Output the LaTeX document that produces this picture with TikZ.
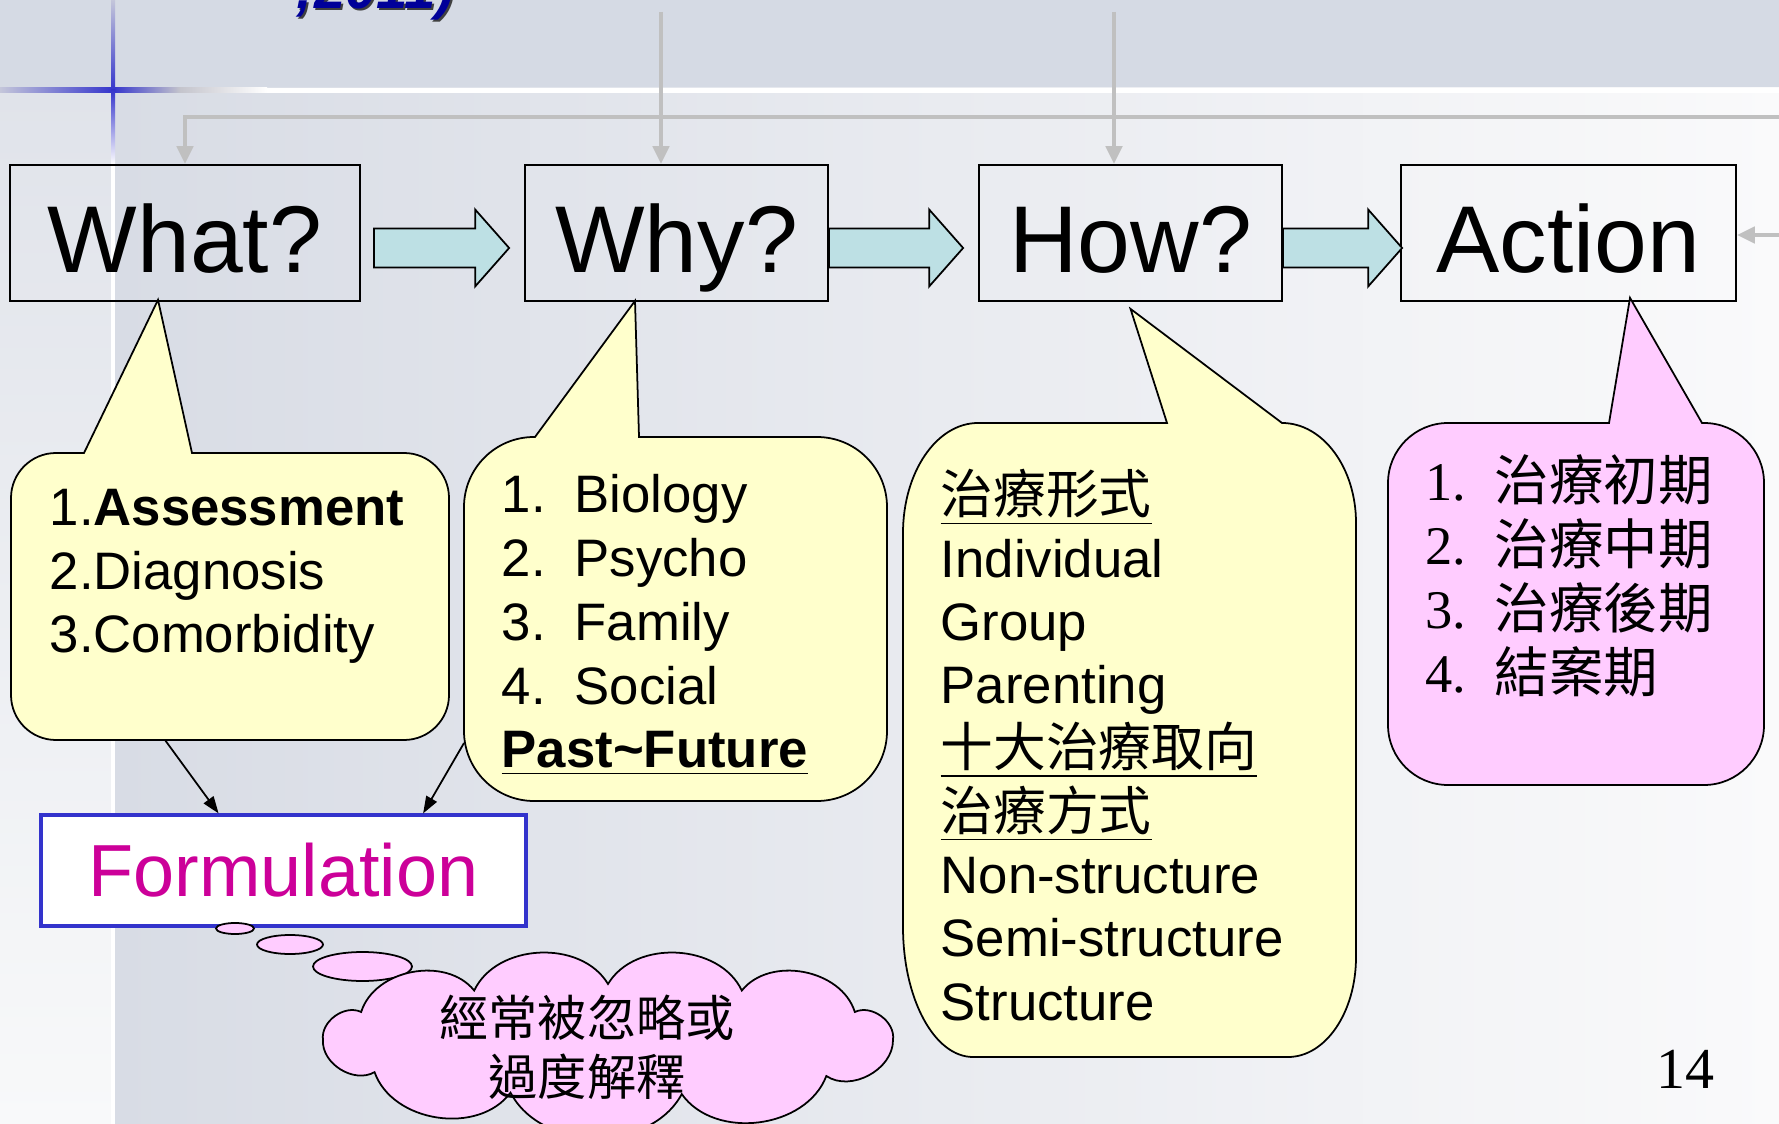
\documentclass[tikz,border=0pt]{standalone}
\usepackage{fontspec}
\setmainfont{Liberation Sans}
\newfontfamily\cjk{Noto Sans CJK TC}
\newfontfamily\numfont{Liberation Serif}
\usepackage{xcolor}
\usetikzlibrary{arrows.meta,positioning,calc,shapes.geometric}
\definecolor{bandgray}{RGB}{213,218,228}
\definecolor{bgleft}{RGB}{216,220,229}
\definecolor{bgright}{RGB}{250,250,251}
\definecolor{striptop}{RGB}{224,227,234}
\definecolor{stripbot}{RGB}{248,249,250}
\definecolor{crossblue}{RGB}{53,53,204}
\definecolor{crossfade}{RGB}{196,198,218}
\definecolor{crossgray}{RGB}{196,196,204}
\definecolor{feedgray}{RGB}{192,192,192}
\definecolor{callyellow}{RGB}{255,255,204}
\definecolor{callpink}{RGB}{255,204,255}
\definecolor{fatcyan}{RGB}{189,224,228}
\definecolor{formblue}{RGB}{51,51,204}
\definecolor{formmag}{RGB}{204,0,153}
\definecolor{titleblue}{RGB}{0,0,153}
\newcommand{\itm}[2]{\makebox[7.3mm][l]{#1}#2}
\newcommand{\stage}[2]{\makebox[6.9mm][l]{\numfont #1}{\cjk #2}}
\newcommand{\fatarrow}[2]{%
  \draw[fat] let \p1=(#1), \p2=(#2) in
    (\x1,{\y1+0.195cm}) -- ({\x2-0.34cm},{\y1+0.195cm}) -- ({\x2-0.34cm},{\y1+0.385cm})
    -- (\x2,\y1) -- ({\x2-0.34cm},{\y1-0.385cm}) -- ({\x2-0.34cm},{\y1-0.195cm})
    -- (\x1,{\y1-0.195cm}) -- cycle;}
\tikzset{
  qbox/.style={draw, line width=0.5pt, minimum height=1.36cm, inner sep=0pt,
               font=\fontsize{27}{32}\selectfont, text height=22.2pt, text depth=0pt},
  fat/.style={draw, fill=fatcyan, line width=0.5pt},
  feed/.style={draw=feedgray, line width=1.3pt, -{Triangle[length=1.8mm,width=1.6mm]}},
  ycall/.style={draw, fill=callyellow, line width=0.5pt},
  pcall/.style={draw, fill=callpink, line width=0.5pt},
  listtxt/.style={anchor=base west, align=left, inner sep=0pt,
                  font=\fontsize{15}{18.2}\selectfont},
  formbox/.style={draw=formblue, line width=0.9pt, fill=white, text=formmag,
                  minimum width=4.85cm, minimum height=1.11cm,
                  font=\fontsize{21}{25}\selectfont, text height=15pt, text depth=0pt},
  link/.style={-{Triangle[length=1.7mm,width=1.2mm]}, line width=0.5pt},
  bubble/.style={draw, fill=callpink, ellipse, inner sep=0pt, line width=0.5pt},
  thought/.style={draw, fill=callpink, line width=0.5pt},
  thoughttxt/.style={align=center, inner sep=0pt, font=\cjk\fontsize{14}{16.8}\selectfont}
}
\begin{document}
\begin{tikzpicture}[x=1cm,y=1cm]
  \useasboundingbox (0,0) rectangle (17.79,-11.24);
  \fill[bandgray] (0,0) rectangle (17.79,-0.88);
  \shade[left color=bgleft, right color=bgright] (1.13,-0.88) rectangle (17.79,-11.24);
  \shade[top color=striptop, bottom color=stripbot] (0,-0.88) rectangle (1.13,-11.24);
  \shade[left color=crossfade, right color=crossblue] (0,-0.88) rectangle (1.13,-0.93);
  \shade[left color=crossblue, right color=crossgray] (1.13,-0.88) rectangle (1.80,-0.93);
  \shade[left color=crossgray, right color=white] (1.80,-0.88) rectangle (2.67,-0.93);
  \fill[white] (2.67,-0.88) rectangle (17.79,-0.93);
  \shade[top color=crossfade, bottom color=crossblue] (1.11,0) rectangle (1.15,-0.90);
  \shade[top color=crossblue, bottom color=white] (1.11,-0.90) rectangle (1.15,-1.65);
  \fill[white] (1.11,-1.65) rectangle (1.15,-11.24);

  \node[anchor=base west, inner sep=0pt, text=black!75,
        font=\fontsize{16}{19}\selectfont\bfseries\itshape] (ttlshade) at (2.97,-0.11) {;2011)};
  \node[anchor=base west, inner sep=0pt, text=titleblue,
        font=\fontsize{16}{19}\selectfont\bfseries\itshape] (ttl) at (2.95,-0.09) {;2011)};

  \node[qbox, minimum width=3.50cm] (what) at (1.85,-2.33) {What?};
  \node[qbox, minimum width=3.03cm] (why) at (6.765,-2.33) {Why?};
  \node[qbox, minimum width=3.03cm] (how) at (11.305,-2.33) {How?};
  \node[qbox, minimum width=3.35cm] (action) at (15.685,-2.33) {Action};

  \coordinate (topR) at (17.79,-1.17);
  \coordinate (top1) at (6.61,-0.12);
  \coordinate (top2) at (11.14,-0.12);
  \coordinate (sideR) at (17.79,-2.35);
  \draw[feed] (topR) -| (what.north);
  \draw[feed] (top1) -- (top1 |- why.north);
  \draw[feed] (top2) -- (top2 |- how.north);
  \draw[feed] (sideR) -- (sideR -| action.east);

  \fatarrow{$(what.east)+(0.13,-0.15)$}{$(why.west)+(-0.15,-0.15)$}
  \fatarrow{$(why.east)+(0,-0.15)$}{$(how.west)+(-0.15,-0.15)$}
  \fatarrow{$(how.east)+(0,-0.15)$}{$(action.west)+(0.02,-0.15)$}

  \node[formbox] (form) at (2.835,-8.705) {Formulation};
  \node[bubble, minimum width=0.38cm, minimum height=0.11cm] (puff1) at (2.35,-9.285) {};
  \node[bubble, minimum width=0.66cm, minimum height=0.19cm] (puff2) at (2.90,-9.445) {};
  \node[bubble, minimum width=0.99cm, minimum height=0.29cm] (puff3) at (3.625,-9.665) {};
  \draw[thought] (8.93,-10.40)
    \foreach \a in {30,62,90,118,150,180,215,250,285,320,360}
      { to[bend right=62] ({6.08+2.85*cos(\a)},{-10.40+0.56*sin(\a)}) } -- cycle;
  \node[thoughttxt] (cloudtxt) at (5.87,-10.47) {經常被忽略或\\過度解釋};

  \draw[ycall] (1.92,-4.53) [rounded corners=0.45cm] -- (4.49,-4.53) -- (4.49,-7.40)
    -- (0.11,-7.40) -- (0.11,-4.53) [sharp corners] -- (0.84,-4.53)
    -- ($(what.south)+(-0.27,0.02)$) -- cycle;
  \draw[ycall] (6.39,-4.37) [rounded corners=0.7cm] -- (8.87,-4.37) -- (8.87,-8.01)
    -- (4.64,-8.01) -- (4.64,-4.37) [sharp corners] -- (5.35,-4.37)
    -- ($(why.south)+(-0.415,0.01)$) -- cycle;
  \draw[ycall] (12.82,-4.23) arc[start angle=90, end angle=0, x radius=0.74cm, y radius=1.0cm]
    -- (13.56,-9.57) arc[start angle=0, end angle=-90, x radius=0.68cm, y radius=1.0cm]
    -- (9.73,-10.57) arc[start angle=270, end angle=180, x radius=0.70cm, y radius=1.3cm]
    -- (9.03,-5.33) arc[start angle=180, end angle=90, x radius=0.75cm, y radius=1.1cm]
    -- (11.67,-4.23) -- ($(how.south)+(0,-0.07)$) -- cycle;
  \draw[pcall] (17.02,-4.23) [rounded corners=0.6cm] -- (17.64,-4.23) -- (17.64,-7.85)
    -- (13.88,-7.85) -- (13.88,-4.23) [sharp corners] -- (16.09,-4.23)
    -- ($(action.south)+(0.615,0.04)$) -- cycle;

  \node[listtxt] (whatlist) at (0.49,-6.53) {1.\textbf{Assessment}\\2.Diagnosis\\3.Comorbidity};
  \node[listtxt] (whylist) at (5.01,-7.68)
    {\itm{1.}{Biology}\\\itm{2.}{Psycho}\\\itm{3.}{Family}\\\itm{4.}{Social}\\
     \underline{\textbf{Past\textasciitilde Future}}};
  \node[listtxt, font=\fontsize{15}{18}\selectfont] (howlist) at (9.40,-10.20)
    {\underline{\cjk 治療形式}\\Individual\\Group\\Parenting\\\underline{\cjk 十大治療取向}\\
     \underline{\cjk 治療方式}\\Non-structure\\Semi-structure\\Structure};
  \node[listtxt, font=\fontsize{15.5}{18.3}\selectfont] (actlist) at (14.25,-6.93)
    {\stage{1.}{治療初期}\\\stage{2.}{治療中期}\\\stage{3.}{治療後期}\\\stage{4.}{結案期}};

  \coordinate (fromwhat) at (1.65,-7.40);
  \coordinate (fromwhy) at (4.64,-7.43);
  \draw[link] (fromwhat) -- ($(form.north west)!0.367!(form.north east)$);
  \draw[link] (fromwhy) -- ($(form.north west)!0.786!(form.north east)$);

  \node[anchor=base east, inner sep=0pt, font=\numfont\fontsize{16.5}{20}\selectfont]
    (pagenum) at (17.15,-10.88) {14};
\end{tikzpicture}
\end{document}
